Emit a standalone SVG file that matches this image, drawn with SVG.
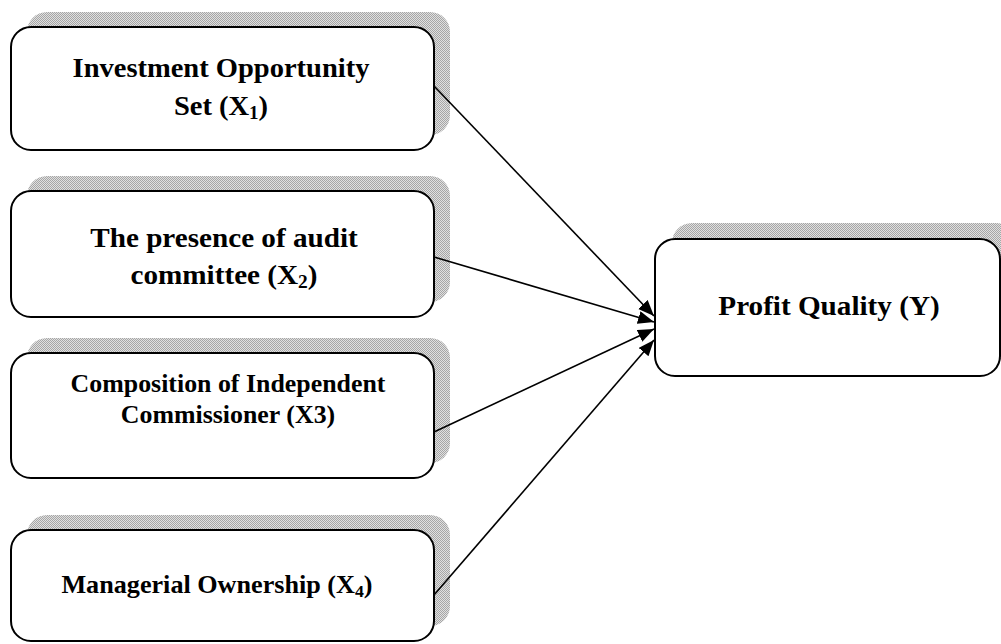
<svg xmlns="http://www.w3.org/2000/svg" width="1001" height="644" viewBox="0 0 1001 644">
<style>
.box{fill:#fff;stroke:#000;stroke-width:2}
.shadow{fill:url(#dither);stroke:none}
.lbl{font-family:"Liberation Serif","Times New Roman",serif;font-weight:bold;text-anchor:middle;fill:#000}
.conn{stroke:#000;stroke-width:1.6;fill:none;marker-end:url(#arrow)}
</style>
<defs>
<pattern id="dither" width="2" height="2" patternUnits="userSpaceOnUse">
<rect width="2" height="2" fill="#e0e0e0"/>
<rect width="1" height="1" fill="#a6a6a6"/>
<rect x="1" y="1" width="1" height="1" fill="#a6a6a6"/>
</pattern>
<marker id="arrow" markerUnits="userSpaceOnUse" markerWidth="18" markerHeight="14" refX="16" refY="6.5" orient="auto">
<path d="M0,0 L16,6.5 L0,13 z" fill="#000"/>
</marker>
</defs>
<rect width="1001" height="644" fill="#fff"/>
<g id="node-x1">
<rect class="shadow" x="27" y="12" width="423" height="123" rx="20"/>
<rect class="box" x="11" y="27" width="423" height="123" rx="20"/>
<g transform="translate(221,0) scale(1.056,1)">
<text class="lbl" x="0" y="77" font-size="27">Investment Opportunity</text>
<text class="lbl" x="0" y="115" font-size="27">Set (X<tspan font-size="18" dy="4">1</tspan><tspan dy="-4">)</tspan></text>
</g>
</g>
<g id="node-x2">
<rect class="shadow" x="27" y="176" width="423" height="126" rx="20"/>
<rect class="box" x="11" y="191" width="423" height="126" rx="20"/>
<g transform="translate(224,0) scale(1.08,1)">
<text class="lbl" x="0" y="247" font-size="27">The presence of audit</text>
<text class="lbl" x="0" y="284" font-size="27">committee (X<tspan font-size="18" dy="4">2</tspan><tspan dy="-4">)</tspan></text>
</g>
</g>
<g id="node-x3">
<rect class="shadow" x="27" y="338" width="423" height="125" rx="20"/>
<rect class="box" x="11" y="353" width="423" height="125" rx="20"/>
<g transform="translate(228,0) scale(1.035,1)">
<text class="lbl" x="0" y="392" font-size="25">Composition of Independent</text>
<text class="lbl" x="0" y="423" font-size="25">Commissioner (X3)</text>
</g>
</g>
<g id="node-x4">
<rect class="shadow" x="27" y="515" width="423" height="111" rx="20"/>
<rect class="box" x="11" y="530" width="423" height="111" rx="20"/>
<g transform="translate(217,0) scale(1.047,1)">
<text class="lbl" x="0" y="593" font-size="25">Managerial Ownership (X<tspan font-size="17" dy="4">4</tspan><tspan dy="-4">)</tspan></text>
</g>
</g>
<g id="node-y">
<rect class="shadow" x="672" y="223" width="345" height="137" rx="20"/>
<rect class="box" x="655" y="239" width="345" height="137" rx="20"/>
<g transform="translate(829,0) scale(1.08,1)">
<text class="lbl" x="0" y="315" font-size="27">Profit Quality (Y)</text>
</g>
</g>
<g id="connectors">
<line class="conn" x1="434" y1="86" x2="654" y2="316"/>
<line class="conn" x1="434" y1="257" x2="654" y2="322"/>
<line class="conn" x1="434" y1="432" x2="654" y2="329"/>
<line class="conn" x1="434" y1="595" x2="654" y2="340"/>
</g>
</svg>
